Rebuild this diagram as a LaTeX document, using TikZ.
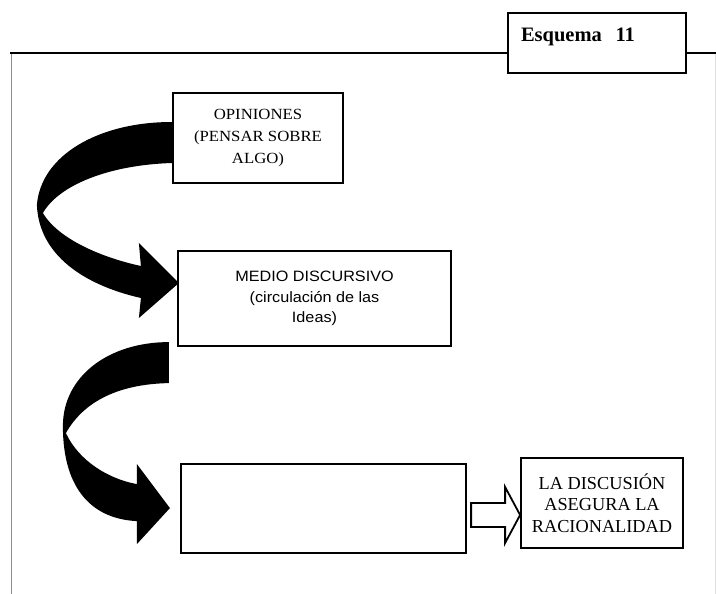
\documentclass[tikz,border=0pt]{standalone}
\usepackage{fontspec}
\setmainfont{Liberation Serif}
\newfontfamily\widserif[FakeStretch=1.08]{Liberation Serif}
\newfontfamily\widsans[FakeStretch=1.08]{Liberation Sans}
\begin{document}
\begin{tikzpicture}[x=1pt,y=-1pt,
  box/.style={draw=black,line width=2.2pt,fill=white,inner sep=0pt,align=center},
  ribbon/.style={fill=black,draw=none},
  hollow/.style={draw=black,line width=1.8pt,fill=white,line join=miter}]
\useasboundingbox (0,0) rectangle (716,594);

% outer frame
\draw[black!45,line width=1pt] (11,53) -- (11,594);
\draw[black!12,line width=0.8pt] (715,53) -- (715,594);

% title tab
\node[draw=black,line width=1.4pt,fill=white,minimum width=178,minimum height=60,
      text width=152,align=left,text depth=17pt,inner sep=0pt,
      font=\fontsize{20.5}{22}\selectfont\bfseries] (esq) at (597,43) {Esquema\ \ 11};
\draw[black,line width=1.4pt] (10,53) -- (esq.west |- 0,53);
\draw[black,line width=1.4pt] (esq.east |- 0,53) -- (716,53);

% boxes
\node[box,minimum width=170,minimum height=90,
      font=\widserif\fontsize{15.5}{22}\selectfont] (opin) at (258,138)
      {OPINIONES\\(PENSAR SOBRE\\ALGO)};
\node[box,minimum width=273,minimum height=95,
      font=\widsans\fontsize{15}{20.5}\selectfont] (medio) at (314.5,298.5)
      {MEDIO DISCURSIVO\\(circulación de las\\Ideas)};
\node[box,minimum width=285,minimum height=89] (vacio) at (323.5,508.5) {};
\node[box,line width=2.6pt,minimum width=162,minimum height=90,
      font=\fontsize{18.3}{21.5}\selectfont] (disc) at (602,503)
      {LA DISCUSIÓN\\ASEGURA LA\\RACIONALIDAD};

% curved arrow from OPINIONES down to MEDIO DISCURSIVO
\begin{scope}[shift={(opin.west)}]
  \fill[ribbon] (0,-16) .. controls (-73,-16) and (-131,17) .. (-135,67)
    .. controls (-133,117) and (-88,147) .. (-31,160)
    -- (-33,180) -- (7,145) -- (-33,105) -- (-31,128)
    .. controls (-68,120) and (-113,102) .. (-129,75)
    .. controls (-113,47) and (-63,27) .. (0,25) -- cycle;
\end{scope}

% curved arrow from MEDIO DISCURSIVO down to the empty box
\begin{scope}[shift={(medio.south west)}]
  \fill[ribbon] (-8,-5) .. controls (-68,-5) and (-114,29) .. (-114,79)
    .. controls (-114,144) and (-83,172) .. (-40,174)
    -- (-40,197) -- (-7,161) -- (-40,117) -- (-40,137)
    .. controls (-68,132) and (-98,114) .. (-111,86)
    .. controls (-93,54) and (-58,37) .. (-8,36) -- cycle;
\end{scope}

% block arrow from the empty box to the conclusion
\begin{scope}[shift={(vacio.east)}]
  \draw[hollow] (4,-5.5) -- (38,-5.5) -- (38,-21.5) -- (53,6.5)
    -- (38,34.5) -- (38,18.5) -- (4,18.5) -- cycle;
\end{scope}
\end{tikzpicture}
\end{document}
